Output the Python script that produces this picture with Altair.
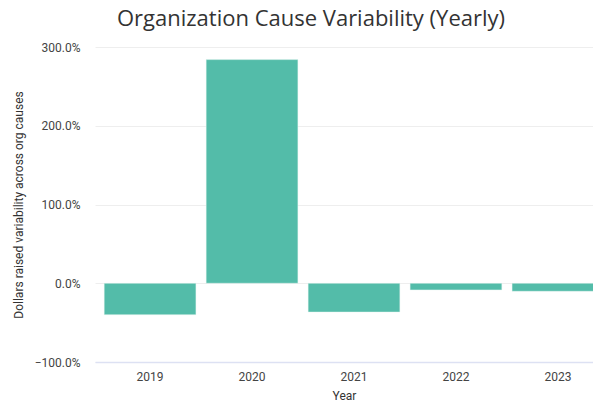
import altair as alt
import pandas as pd

years = ["2019", "2020", "2021", "2022", "2023"]
variability = [-0.40, 2.84, -0.366, -0.085, -0.102]

df = pd.DataFrame({"Year": years, "Variability": variability})

chart = alt.Chart(df).mark_bar(color="#53bca9", stroke="#e8f6f3", strokeWidth=0.5).encode(
    x=alt.X("Year:N", sort=years, title="Year",
            scale=alt.Scale(range=[0, 518], paddingInner=0.1, paddingOuter=0.09),
            axis=alt.Axis(labelAngle=0, ticks=False, domainColor="#dde1f3", domainWidth=1.5,
                          labelPadding=9, titlePadding=8, grid=False, titleX=249)),
    y=alt.Y("Variability:Q", title="Dollars raised variability across org causes",
            scale=alt.Scale(domain=[-1, 3], nice=False),
            axis=alt.Axis(format=".1%", values=[-1, 0, 1, 2, 3], ticks=False, domain=False,
                          gridColor="#eeeeee", labelPadding=15, titlePadding=9)),
).properties(
    width=498, height=315,
    title=alt.TitleParams("Organization Cause Variability (Yearly)", fontSize=22,
                          font="Open Sans", fontWeight="normal", color="#333333",
                          anchor="middle", offset=10, dx=-33),
    autosize=alt.AutoSizeParams(type="none"),
    padding={"left": 87, "top": 39, "right": 0, "bottom": 44},
).configure_axis(
    labelFont="Roboto", titleFont="Roboto", labelFontSize=12, titleFontSize=12,
    labelColor="#444444", titleColor="#333333", titleFontWeight="normal",
).configure_view(stroke=None)

chart.save("out.html", embed_options={"renderer": "svg", "actions": False})
